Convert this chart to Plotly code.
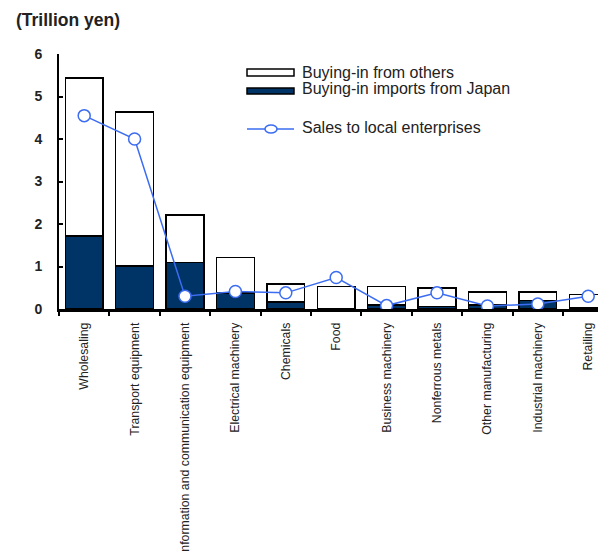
import plotly.graph_objects as go

# Sales and procurement of Japanese affiliates abroad, by industry (trillion yen)
categories = [
    "Wholesaling",
    "Transport equipment",
    "Information and communication equipment",
    "Electrical machinery",
    "Chemicals",
    "Food",
    "Business machinery",
    "Nonferrous metals",
    "Other manufacturing",
    "Industrial machinery",
    "Retailing",
]
buying_total = [5.44, 4.63, 2.21, 1.21, 0.59, 0.53, 0.53, 0.49, 0.40, 0.40, 0.34]
imports_from_japan = [1.72, 1.01, 1.10, 0.38, 0.17, 0.01, 0.10, 0.06, 0.10, 0.20, 0.02]
sales_local = [4.55, 4.00, 0.30, 0.41, 0.38, 0.74, 0.08, 0.38, 0.07, 0.12, 0.30]

buying_others = [round(t - j, 2) for t, j in zip(buying_total, imports_from_japan)]

NAVY = "#003366"
BLUE = "#3b6cf2"
W, H = 598, 552
L, R, T, B = 59, 0, 54, 243
PW, PH = W - L - R, H - T - B
CAT_PX = 50.4  # pixel width of one category slot


def px_x(x):
    return (x - L) / PW


def px_y(y):
    return (H - B - y) / PH


fig = go.Figure()
fig.add_trace(go.Bar(
    x=categories, y=imports_from_japan, name="Buying-in imports from Japan",
    marker=dict(color=NAVY, line=dict(color="black", width=1.5)), width=0.75,
))
fig.add_trace(go.Bar(
    x=categories, y=buying_others, name="Buying-in from others",
    marker=dict(color="white", line=dict(color="black", width=1.5)), width=0.75,
))
fig.add_trace(go.Scatter(
    x=categories, y=sales_local, name="Sales to local enterprises",
    mode="lines+markers", line=dict(color=BLUE, width=1.5),
    marker=dict(symbol="circle", size=12, color="white", line=dict(color=BLUE, width=1.5)),
))

# Hand-drawn legend with wide swatches
shapes = [
    dict(type="rect", xref="paper", yref="paper",
         x0=px_x(247), x1=px_x(294), y0=px_y(76), y1=px_y(69),
         fillcolor="white", line=dict(color="black", width=1.5)),
    dict(type="rect", xref="paper", yref="paper",
         x0=px_x(247), x1=px_x(294), y0=px_y(94), y1=px_y(88),
         fillcolor=NAVY, line=dict(color="black", width=1.5)),
    dict(type="line", xref="paper", yref="paper",
         x0=px_x(247), x1=px_x(294), y0=px_y(129), y1=px_y(129),
         line=dict(color=BLUE, width=1.5)),
    dict(type="circle", xref="paper", yref="paper",
         x0=px_x(265), x1=px_x(277), y0=px_y(133), y1=px_y(125),
         fillcolor="white", line=dict(color=BLUE, width=1.5)),
]

legend_font = dict(family="Liberation Sans, Arial, sans-serif", size=16, color="#222222")
annotations = [
    dict(text="Buying-in from others", xref="paper", yref="paper",
         x=px_x(300), y=px_y(73), xanchor="left", yanchor="middle",
         showarrow=False, font=legend_font),
    dict(text="Buying-in imports from Japan", xref="paper", yref="paper",
         x=px_x(300), y=px_y(89), xanchor="left", yanchor="middle",
         showarrow=False, font=legend_font),
    dict(text="Sales to local enterprises", xref="paper", yref="paper",
         x=px_x(300), y=px_y(128), xanchor="left", yanchor="middle",
         showarrow=False, font=legend_font),
    dict(text="<b>(Trillion yen)</b>", xref="paper", yref="paper",
         x=px_x(14), y=px_y(20), xanchor="left", yanchor="middle",
         showarrow=False,
         font=dict(family="Liberation Sans, Arial, sans-serif", size=17.5, color="#222222")),
]

fig.update_layout(
    width=W, height=H,
    margin=dict(l=L, r=R, t=T, b=B, autoexpand=False),
    barmode="stack", bargap=0.25,
    plot_bgcolor="white", paper_bgcolor="white",
    showlegend=False,
    shapes=shapes, annotations=annotations,
    xaxis=dict(
        type="category", categoryorder="array", categoryarray=categories,
        range=[-0.5, -0.5 + PW / CAT_PX],
        showline=True, linecolor="black", linewidth=2.5,
        ticks="outside", tickson="boundaries", ticklen=4, tickwidth=1.5, tickcolor="black",
        tickangle=-90, ticklabelstandoff=6,
        tickfont=dict(family="Liberation Sans, Arial, sans-serif", size=12.3, color="#222222"),
        showgrid=False, zeroline=False, automargin=False,
    ),
    yaxis=dict(
        range=[0, 6], tickvals=[0, 1, 2, 3, 4, 5, 6],
        showline=True, linecolor="black", linewidth=2,
        ticks="inside", ticklen=4, tickwidth=1.5, tickcolor="black",
        ticklabelstandoff=12,
        tickfont=dict(family="Liberation Sans, Arial, sans-serif", size=14, color="#222222",
                      weight="bold"),
        showgrid=False, zeroline=False, automargin=False,
    ),
)

fig.write_html("out.html")
